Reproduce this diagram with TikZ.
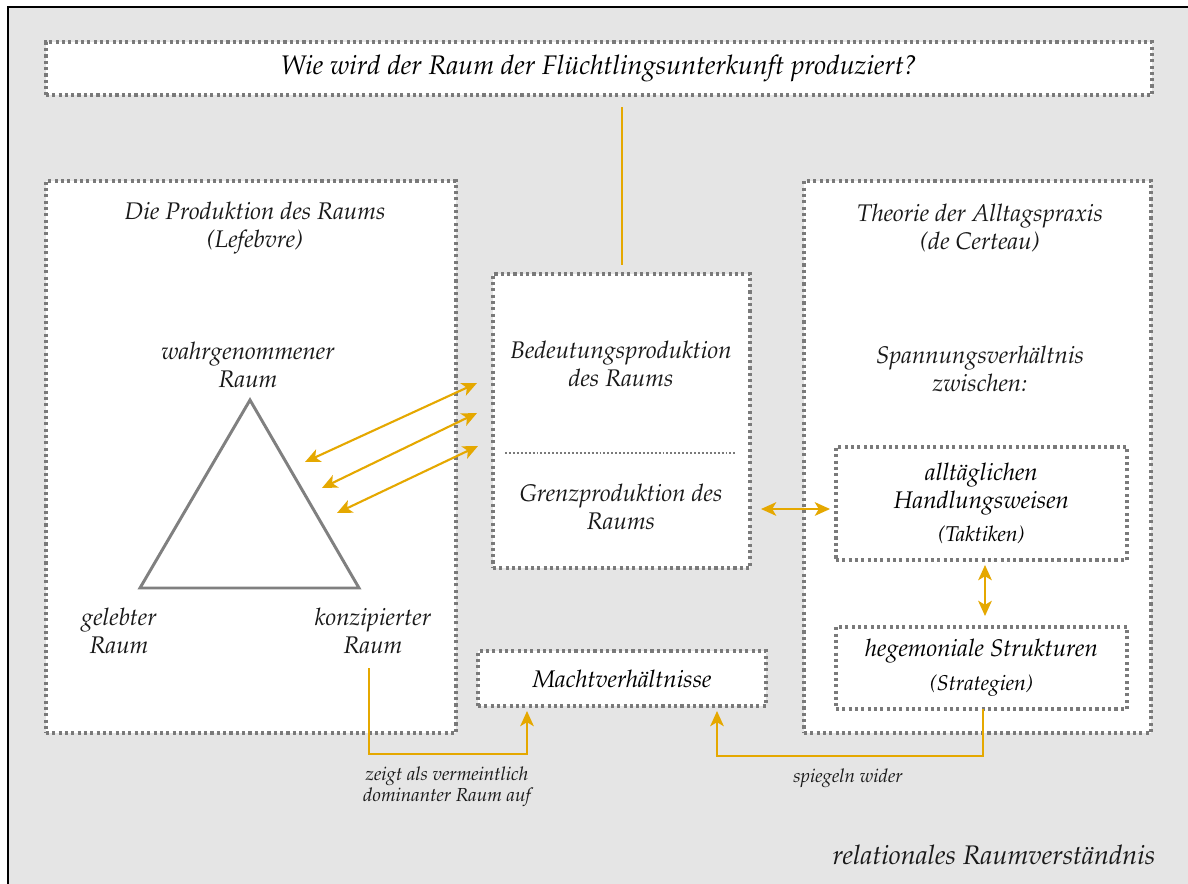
\documentclass[tikz,border=0pt]{standalone}
\usepackage[T1]{fontenc}
\usepackage{mathpazo}
\usetikzlibrary{arrows.meta,positioning}

\definecolor{bggray}{HTML}{E5E5E5}
\definecolor{dotgray}{HTML}{7A7A7A}
\definecolor{trigray}{HTML}{808080}
\definecolor{gold}{HTML}{E5A800}

\newcommand{\bodyfont}{\fontsize{17.1}{19.9}\selectfont\itshape}
\newcommand{\titlefont}{\fontsize{19.1}{22}\selectfont\itshape}
\newcommand{\smallfont}{\fontsize{13.4}{14.9}\selectfont\itshape}
\newcommand{\parenfont}{\fontsize{15.2}{17}\selectfont\itshape}

\tikzset{
  dotbox/.style={draw=dotgray, fill=white, line width=2.4pt, dash pattern=on 2.2pt off 2.3pt, inner sep=0pt, align=center, font=\bodyfont},
  txt/.style={inner sep=0pt, align=center, font=\bodyfont, text=black!90},
  goldline/.style={draw=gold, line width=1.5pt},
  goldarrow/.style={goldline, -{Stealth[length=0.38cm,width=0.34cm,inset=0.1cm]}},
  dblarrow/.style={goldline, {Stealth[length=0.38cm,width=0.34cm,inset=0.1cm]}-{Stealth[length=0.38cm,width=0.34cm,inset=0.1cm]}},
}

\begin{document}
\begin{tikzpicture}[x=0.025cm,y=-0.025cm]
  \useasboundingbox (0,0) rectangle (1188,883);
  \fill[bggray] (8,7) rectangle (1200,895);
  \draw[line width=1.4pt] (8,895) -- (8,7) -- (1200,7);

  % boxes
  \node[dotbox, minimum width=27.65cm, minimum height=1.325cm, font=\titlefont] (frage) at (599,68.5) {Wie wird der Raum der Fl\"uchtlingsunterkunft produziert?};
  \node[dotbox, minimum width=10.25cm, minimum height=13.8cm] (lefebvre) at (251,457) {};
  \node[dotbox, minimum width=8.675cm, minimum height=13.8cm] (certeau) at (977.5,457) {};
  \node[dotbox, minimum width=6.425cm, minimum height=7.35cm] (mid) at (621.5,421) {};
  \node[dotbox, minimum width=7.275cm, minimum height=2.825cm] (taktik) at (981.5,503.5) {allt\"aglichen\\Handlungsweisen\\[4pt]{\parenfont (Taktiken)}};
  \node[dotbox, minimum width=7.275cm, minimum height=2.05cm] (strategie) at (981.5,668) {hegemoniale Strukturen\\[4pt]{\parenfont (Strategien)}};
  \node[dotbox, minimum width=7.2cm, minimum height=1.375cm] (macht) at (622,678.5) {Machtverh\"altnisse};

  % texts
  \node[txt] (lef-t) at (255,228) {Die Produktion des Raums\\(Lefebvre)};
  \node[txt] (cer-t) at (980,228) {Theorie der Alltagspraxis\\(de Certeau)};
  \node[txt] (spann) at (980,369) {Spannungsverh\"altnis\\zwischen:};
  \node[txt] (bedeut) at (621,364) {Bedeutungsproduktion\\des Raums};
  \node[txt] (grenz) at (621,507) {Grenzproduktion des\\Raums};
  \node[txt] (wahr) at (248,365) {wahrgenommener\\Raum};
  \node[txt] (gelebt) at (119,631) {gelebter\\Raum};
  \node[txt] (konz) at (373,631) {konzipierter\\Raum};
  \node[txt, font=\smallfont] (zeigt) at (447,787) {zeigt als vermeintlich\\dominanter Raum auf};
  \node[txt, font=\smallfont] (spiegel) at (848,778) {spiegeln wider};
  \node[txt, font=\titlefont] (relat) at (994,855) {relationales Raumverst\"andnis};

  % divider in the middle box
  \draw[dotgray, line width=1.2pt, dash pattern=on 1.4pt off 1.4pt] (505,453) -- (737,453);

  % triangle
  \coordinate (t-top) at (250,400);
  \coordinate (t-left) at (140,588);
  \coordinate (t-right) at (359,588);
  \draw[trigray, line width=2.1pt] (t-top) -- (t-left) -- (t-right) -- cycle;

  % connectors
  \coordinate (q-top) at (622,107);
  \coordinate (q-bot) at (622,265);
  \draw[goldline] (q-top) -- (q-bot);

  \coordinate (a1) at (305,462);
  \coordinate (b1) at (477,383);
  \coordinate (a2) at (322,488);
  \coordinate (b2) at (477,413);
  \coordinate (a3) at (337,513);
  \coordinate (b3) at (478,446);
  \draw[dblarrow] (a1) -- (b1);
  \draw[dblarrow] (a2) -- (b2);
  \draw[dblarrow] (a3) -- (b3);

  \coordinate (g-left) at (761,509);
  \coordinate (g-right) at (830,509);
  \draw[dblarrow] (g-left) -- (g-right);

  \coordinate (tk-bot) at (985,565);
  \coordinate (st-top) at (985,616);
  \draw[dblarrow] (tk-bot) -- (st-top);

  \coordinate (kz-foot) at (369,668);
  \coordinate (macht-l) at (527,711);
  \draw[goldarrow] (kz-foot) |- (448,754) -| (macht-l);

  \coordinate (st-foot) at (983,709);
  \coordinate (macht-r) at (717,711);
  \draw[goldarrow] (st-foot) |- (850,756) -| (macht-r);
\end{tikzpicture}
\end{document}
